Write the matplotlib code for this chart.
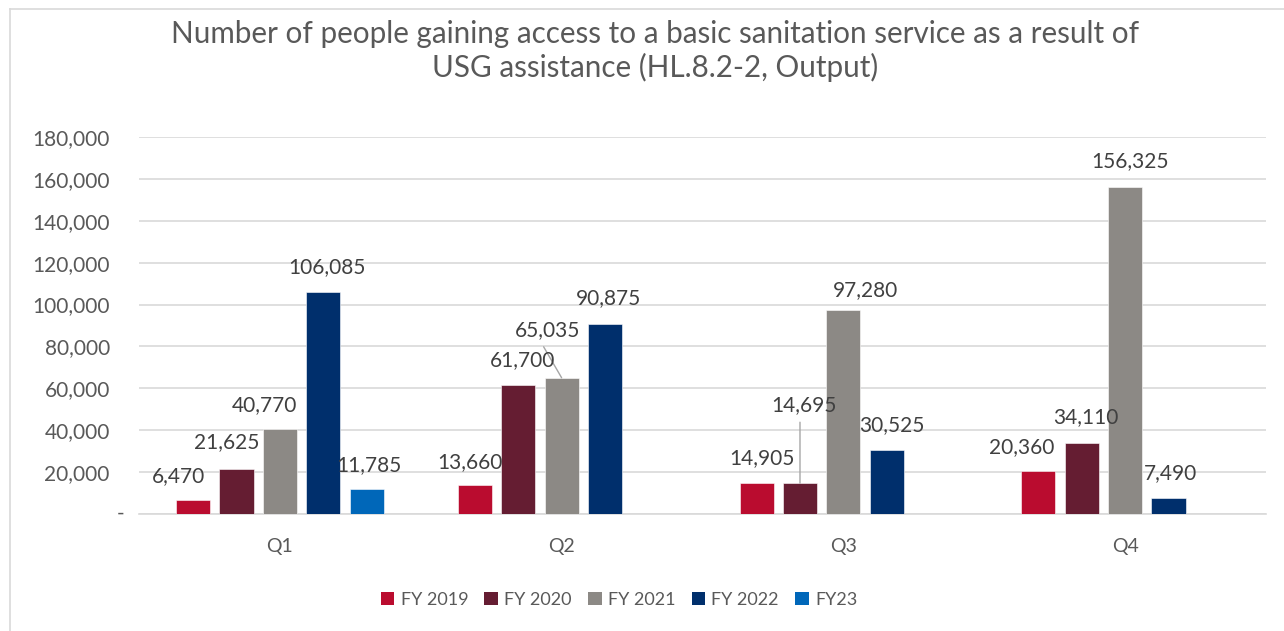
import matplotlib.pyplot as plt
import numpy as np
from matplotlib.lines import Line2D
from matplotlib.patches import Patch

plt.rcParams['font.family'] = ['Lato', 'DejaVu Sans']

TITLE = 'Number of people gaining access to a basic sanitation service as a result of\nUSG assistance (HL.8.2-2, Output)'
quarters = ['Q1', 'Q2', 'Q3', 'Q4']
series_names = ['FY 2019', 'FY 2020', 'FY 2021', 'FY 2022', 'FY23']
fy2019 = [6470, 13660, 14905, 20360]
fy2020 = [21625, 61700, 14695, 34110]
fy2021 = [40770, 65035, 97280, 156325]
fy2022 = [106085, 90875, 30525, 7490]
fy23 = [11785, None, None, None]
colors = ['#BA0C2F', '#651D32', '#8C8985', '#002F6C', '#0067B9']

# hand-placed label nudges (pixels), like the moved labels in the original
label_nudge = {
    (0, 0): (-15, 24), (1, 0): (-10, 27), (2, 0): (-15, 24), (3, 0): (4, 25), (4, 0): (2, 24),
    (0, 1): (-5, 23), (1, 1): (4, 25), (2, 1): (-14, 48), (3, 1): (3, 26),
    (0, 2): (5, 25), (1, 2): (4, 78), (2, 2): (22, 20), (3, 2): (5, 25),
    (0, 3): (-17, 24), (1, 3): (4, 25), (2, 3): (5, 25), (3, 3): (2, 25),
}
leaders = {(2, 1), (1, 2)}

TXT = '#595959'
GRID = '#D9D9D9'

fig = plt.figure(figsize=(12.84, 6.31), dpi=100)
ax = fig.add_axes([139 / 1284, 1 - 514 / 631, (1266 - 139) / 1284, (514 - 137) / 631])

x = np.arange(len(quarters))
step = 0.154
width = 0.121
all_series = [fy2019, fy2020, fy2021, fy2022, fy23]
px = 0.72  # points per pixel at 100 dpi

for i, (vals, col) in enumerate(zip(all_series, colors)):
    v = np.array([np.nan if a is None else a for a in vals], dtype=float)
    xs = x + (i - 2) * step
    ax.bar(xs, v, width, color=col, edgecolor='white', linewidth=0.4, zorder=3)
    for j in range(len(quarters)):
        if np.isnan(v[j]):
            continue
        dx, dy = label_nudge.get((i, j), (0, 25))
        ax.annotate(f'{int(v[j]):,}', (xs[j], v[j]), xytext=(dx * px, dy * px),
                    textcoords='offset points', ha='center', va='center',
                    fontsize=15, color='#404040', zorder=5)
        if (i, j) in leaders:
            start = ((dx - 4) * px, (dy - 17) * px)
            ax.annotate('', (xs[j], v[j]), xytext=start, textcoords='offset points',
                        arrowprops=dict(arrowstyle='-', color='#A6A6A6', lw=1,
                                        shrinkA=0, shrinkB=0), zorder=4)

ax.set_xlim(-0.5, 3.5)
ax.set_ylim(0, 180000)
ax.set_yticks(np.arange(0, 180001, 20000))
ax.set_yticklabels([''] + [f'{t:,}' for t in range(20000, 180001, 20000)])
ax.set_xticks(x)
ax.set_xticklabels(quarters)
ax.tick_params(axis='y', length=0, pad=21, labelsize=15, labelcolor=TXT)
ax.tick_params(axis='x', length=0, pad=17, labelsize=14, labelcolor=TXT)
ax.yaxis.grid(True, color=GRID, lw=1.2, zorder=0)
for s in ['top', 'right', 'left']:
    ax.spines[s].set_visible(False)
ax.spines['bottom'].set_color(GRID)
ax.spines['bottom'].set_linewidth(1.2)

# zero shown as "-" (Excel accounting format), sits a bit right of the numbers
ax.annotate('-', (0, 0), xycoords=('axes fraction', 'data'), xytext=(-18 * px, 0),
            textcoords='offset points', ha='center', va='center', fontsize=15, color=TXT)

fig.text(655 / 1284, 1 - 51 / 631, TITLE, ha='center', va='center', fontsize=21.3,
         color=TXT, linespacing=1.22)

handles = [Patch(facecolor=c, edgecolor='none') for c in colors]
fig.legend(handles, series_names, loc='center', bbox_to_anchor=(619 / 1284, 1 - 600 / 631),
           ncol=5, frameon=False, fontsize=13, labelcolor=TXT, handlelength=0.75,
           handleheight=0.75, handletextpad=0.35, columnspacing=0.9)

# chart-area border (top and left edges visible in the crop)
fig.add_artist(Line2D([10 / 1284, 1], [1 - 9 / 631] * 2, transform=fig.transFigure,
                      color=GRID, lw=1.2))
fig.add_artist(Line2D([10 / 1284] * 2, [0, 1 - 9 / 631], transform=fig.transFigure,
                      color=GRID, lw=1.2))

fig.savefig('out.png', dpi=100)
